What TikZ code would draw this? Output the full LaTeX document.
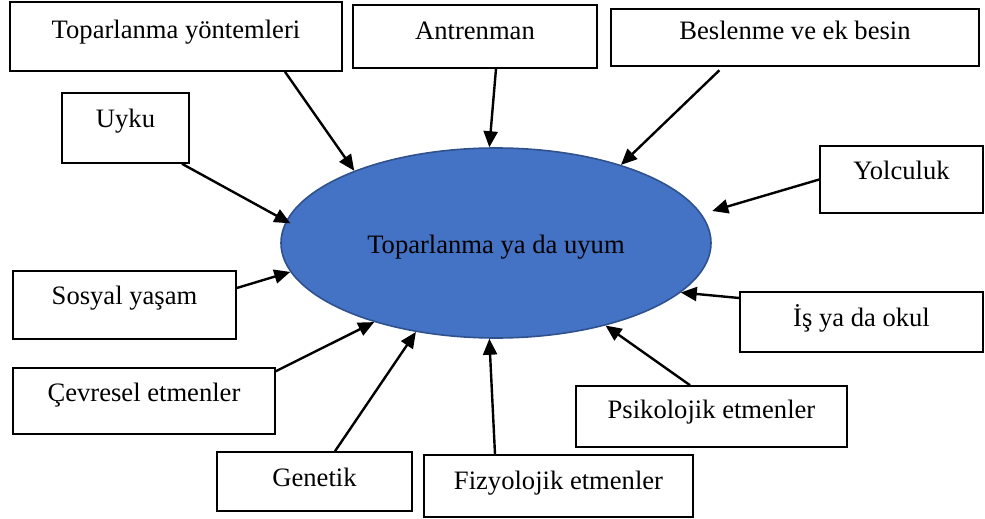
\documentclass[tikz,border=0pt]{standalone}
\usepackage{fontspec}
\setmainfont{Liberation Serif}
\usetikzlibrary{arrows.meta,shapes.geometric}
\definecolor{ellfill}{RGB}{68,114,196}
\definecolor{elldraw}{RGB}{47,82,143}
\tikzset{
  boxnode/.style={draw=black, line width=1.6pt, fill=white, inner sep=0pt,
    text height=19pt, text depth=#1,
    font=\fontsize{26.6}{32}\selectfont},
  arr/.style={line width=2.4pt, -{Triangle[length=16pt,width=14pt]}},
  centre/.style={ellipse, draw=elldraw, fill=ellfill, line width=1.6pt,
    inner sep=0pt, minimum width=430pt, minimum height=190pt,
    text height=27pt, text depth=6pt,
    font=\fontsize{26.6}{32}\selectfont}
}
\begin{document}
\begin{tikzpicture}[x=1pt,y=-1pt]
\useasboundingbox (0,0) rectangle (985,519);

\node[centre] (ell) at (496,243) {Toparlanma ya da uyum};

\node[boxnode=15pt, minimum width=332pt, minimum height=69pt] (yont) at (176,36.5) {Toparlanma yöntemleri};
\node[boxnode=13pt, minimum width=244pt, minimum height=63pt] (antr) at (475,36.5) {Antrenman};
\node[boxnode=15pt, minimum width=368pt, minimum height=57pt] (besl) at (795,37.5) {Beslenme ve ek besin};
\node[boxnode=20pt, minimum width=127pt, minimum height=70pt] (uyku) at (125.5,128) {Uyku};
\node[boxnode=19pt, minimum width=163pt, minimum height=67pt] (yolc) at (901.5,179.5) {Yolculuk};
\node[boxnode=20pt, minimum width=223pt, minimum height=68pt] (sosy) at (124.5,305) {Sosyal yaşam};
\node[boxnode=10pt, minimum width=243pt, minimum height=60pt] (isok) at (861.5,322) {İş ya da okul};
\node[boxnode=18pt, minimum width=262pt, minimum height=66pt] (cevr) at (144,401) {Çevresel etmenler};
\node[boxnode=15pt, minimum width=271pt, minimum height=61pt] (psik) at (711.5,416.5) {Psikolojik etmenler};
\node[boxnode=9pt, minimum width=195pt, minimum height=59pt] (gene) at (314.5,481.5) {Genetik};
\node[boxnode=12pt, minimum width=269pt, minimum height=62pt] (fizy) at (558.5,486) {Fizyolojik etmenler};

\draw[arr] ([xshift=109pt]yont.south) -- (ell.153);
\draw[arr] ([xshift=21pt]antr.south) -- (ell.94);
\draw[arr, shorten <=5pt] ([xshift=-72pt]besl.south) -- (ell.32.5);
\draw[arr, shorten >=-5pt] ([xshift=56.5pt]uyku.south) -- (ell.174.4);
\draw[arr, shorten >=11pt] (yolc.west) -- (ell.8);
\draw[arr] ([yshift=17pt]sosy.east) -- (ell.188.9);
\draw[arr] ([yshift=24pt]isok.west) -- (ell.345.9);
\draw[arr] ([yshift=-4pt]cevr.north east) -- (ell.213);
\draw[arr] ([xshift=20.5pt]gene.north) -- (ell.228.2);
\draw[arr] ([xshift=-63.5pt]fizy.north) -- (ell.266.5);
\draw[arr] ([xshift=-21.5pt]psik.north) -- (ell.323.2);
\end{tikzpicture}
\end{document}
